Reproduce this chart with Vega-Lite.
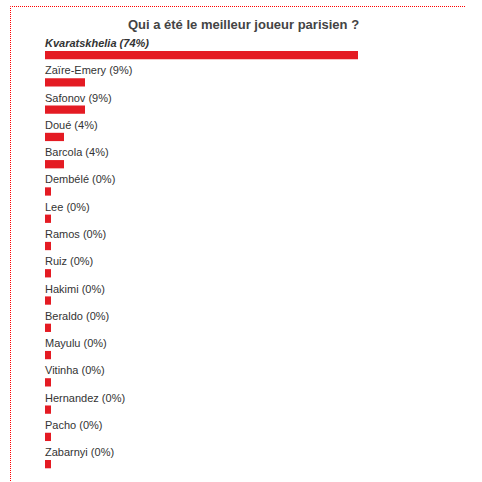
{
  "$schema": "https://vega.github.io/schema/vega-lite/v6.json",
  "autosize": {"type": "none"},
  "padding": {"left": 10, "top": 6, "right": 0, "bottom": 0},
  "width": 455,
  "height": 500,
  "title": {
    "text": "Qui a été le meilleur joueur parisien ?",
    "offset": -22,
    "baseline": "alphabetic",
    "dx": 6,
    "dy": 14,
    "font": "Liberation Sans",
    "fontSize": 13,
    "fontWeight": "bold",
    "color": "#444444"
  },
  "data": {
    "values": [
      {"libelle": "Kvaratskhelia (74%)", "pct": 74, "gagnant": true},
      {"libelle": "Zaïre-Emery (9%)", "pct": 9, "gagnant": false},
      {"libelle": "Safonov (9%)", "pct": 9, "gagnant": false},
      {"libelle": "Doué (4%)", "pct": 4, "gagnant": false},
      {"libelle": "Barcola (4%)", "pct": 4, "gagnant": false},
      {"libelle": "Dembélé (0%)", "pct": 0, "gagnant": false},
      {"libelle": "Lee (0%)", "pct": 0, "gagnant": false},
      {"libelle": "Ramos (0%)", "pct": 0, "gagnant": false},
      {"libelle": "Ruiz (0%)", "pct": 0, "gagnant": false},
      {"libelle": "Hakimi (0%)", "pct": 0, "gagnant": false},
      {"libelle": "Beraldo (0%)", "pct": 0, "gagnant": false},
      {"libelle": "Mayulu (0%)", "pct": 0, "gagnant": false},
      {"libelle": "Vitinha (0%)", "pct": 0, "gagnant": false},
      {"libelle": "Hernandez (0%)", "pct": 0, "gagnant": false},
      {"libelle": "Pacho (0%)", "pct": 0, "gagnant": false},
      {"libelle": "Zabarnyi (0%)", "pct": 0, "gagnant": false}
    ]
  },
  "encoding": {
    "y": {
      "field": "libelle",
      "type": "nominal",
      "sort": null,
      "axis": null,
      "scale": {"range": [45, 462.3], "paddingInner": 0.696, "paddingOuter": 0}
    }
  },
  "layer": [
    {
      "mark": {"type": "bar", "color": "#e41b23"},
      "encoding": {
        "x": {
          "field": "pct",
          "type": "quantitative",
          "axis": null,
          "scale": {"domain": [-1, 0, 4, 74], "range": [35, 41, 54, 348], "zero": false, "nice": false}
        },
        "x2": {"datum": -1}
      }
    },
    {
      "transform": [{"filter": "datum.gagnant"}],
      "mark": {"type": "text", "align": "left", "baseline": "alphabetic", "dy": -8, "font": "Liberation Sans", "fontSize": 11, "fontWeight": "bold", "fontStyle": "italic", "color": "#333333"},
      "encoding": {
        "x": {"datum": -1, "type": "quantitative"},
        "text": {"field": "libelle", "type": "nominal"}
      }
    },
    {
      "transform": [{"filter": "!datum.gagnant"}],
      "mark": {"type": "text", "align": "left", "baseline": "alphabetic", "dy": -8, "font": "Liberation Sans", "fontSize": 11, "color": "#333333"},
      "encoding": {
        "x": {"datum": -1, "type": "quantitative"},
        "text": {"field": "libelle", "type": "nominal"}
      }
    }
  ],
  "config": {
    "view": {"stroke": "#ff0000", "strokeOpacity": 1, "strokeDash": [1, 1], "strokeDashOffset": 0.5, "strokeWidth": 1}
  }
}
